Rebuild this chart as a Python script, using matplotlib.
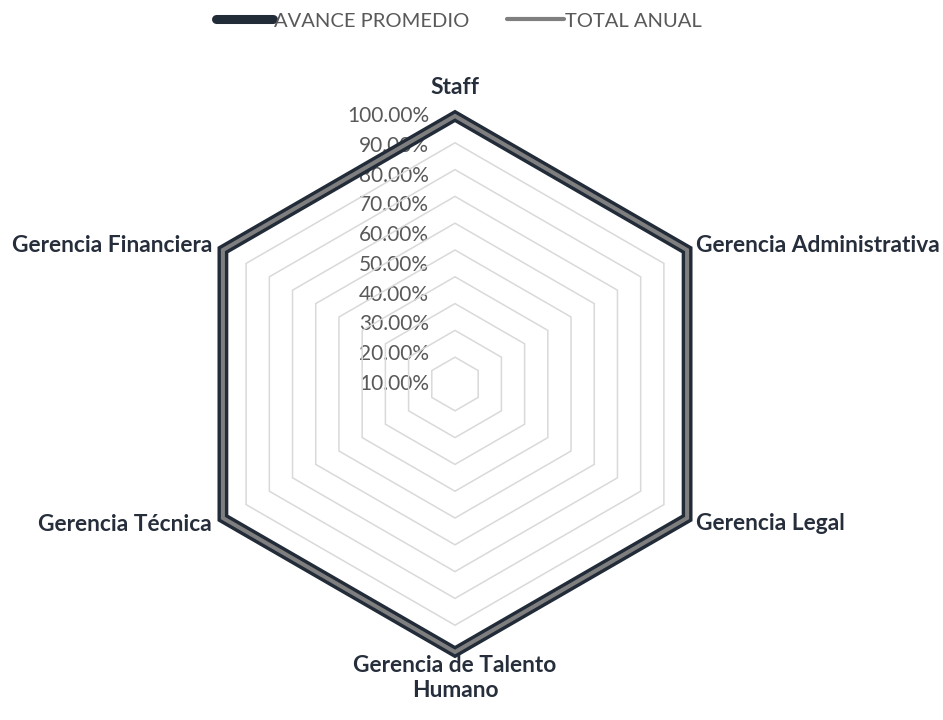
import numpy as np
import matplotlib.pyplot as plt
from matplotlib.lines import Line2D

categories = ["Staff", "Gerencia Administrativa", "Gerencia Legal",
              "Gerencia de Talento\nHumano", "Gerencia Técnica", "Gerencia Financiera"]
avance_promedio = [1.00, 1.00, 1.00, 1.00, 1.00, 1.00]
total_anual = [1.00, 1.00, 1.00, 1.00, 1.00, 1.00]
tick_values = [0.10, 0.20, 0.30, 0.40, 0.50, 0.60, 0.70, 0.80, 0.90, 1.00]
tick_labels = ["10.00%", "20.00%", "30.00%", "40.00%", "50.00%",
               "60.00%", "70.00%", "80.00%", "90.00%", "100.00%"]
series_names = ["AVANCE PROMEDIO", "TOTAL ANUAL"]

plt.rcParams['font.family'] = ['Lato', 'DejaVu Sans']

W, H = 943, 720
fig = plt.figure(figsize=(W / 100, H / 100), dpi=100)
cx, cy, R = 455, 384, 268
ax = fig.add_axes([(cx - R) / W, (H - cy - R) / H, 2 * R / W, 2 * R / H], projection='polar')
ax.set_theta_zero_location('N')
ax.set_theta_direction(-1)
ax.set_ylim(0, 1)
ax.set_axis_off()

n = len(categories)
theta = np.arange(n) * 2 * np.pi / n

# gridline hexagons
for v in tick_values:
    ax.fill(theta, [v] * n, fill=False, edgecolor='#D9D9D9', lw=1.1, zorder=2,
            joinstyle='miter', clip_on=False)

# tick labels (spread evenly from the centre to the top, as in the original)
vmin, vmax = tick_values[0], tick_values[-1]
for v, lab in zip(tick_values, tick_labels):
    r_lab = (v - vmin) / (vmax - vmin) * vmax
    ax.annotate(lab, xy=(0, r_lab), xytext=(-26, 0), textcoords='offset pixels',
                ha='right', va='center', fontsize=15, color='#595959', zorder=1)

dark = '#222B38'
grey = '#7F7F7F'
ax.fill(theta, avance_promedio, fill=False, edgecolor=dark, lw=7.8, zorder=3,
        joinstyle='miter', clip_on=False)
ax.fill(theta, total_anual, fill=False, edgecolor=grey, lw=2.9, zorder=4,
        joinstyle='miter', clip_on=False)

# category labels
offsets = [((0, 29), 'center'), ((9, 5), 'left'), ((9, -6), 'left'),
           ((0, -3), 'center'), ((-11, -6), 'right'), ((-11, 5), 'right')]
for t, lab, (off, ha) in zip(theta, categories, offsets):
    va = 'top' if '\n' in lab else 'center'
    ax.annotate(lab, xy=(t, 1.0), xytext=off, textcoords='offset pixels',
                ha=ha, va=va, fontsize=16.4, fontweight='bold', color='#262E3B',
                multialignment='center', linespacing=1.25, annotation_clip=False)

handles = [Line2D([], [], color=dark, lw=6.5, solid_capstyle='round'),
           Line2D([], [], color=grey, lw=3, solid_capstyle='round')]
leg = fig.legend(handles, series_names, loc='center', bbox_to_anchor=(459 / W, 1 - 21 / H),
                 ncol=2, frameon=False, fontsize=14.5, handlelength=2.8,
                 handletextpad=0.05, columnspacing=1.9, labelcolor='#595959')

fig.savefig('out.png', dpi=100)
